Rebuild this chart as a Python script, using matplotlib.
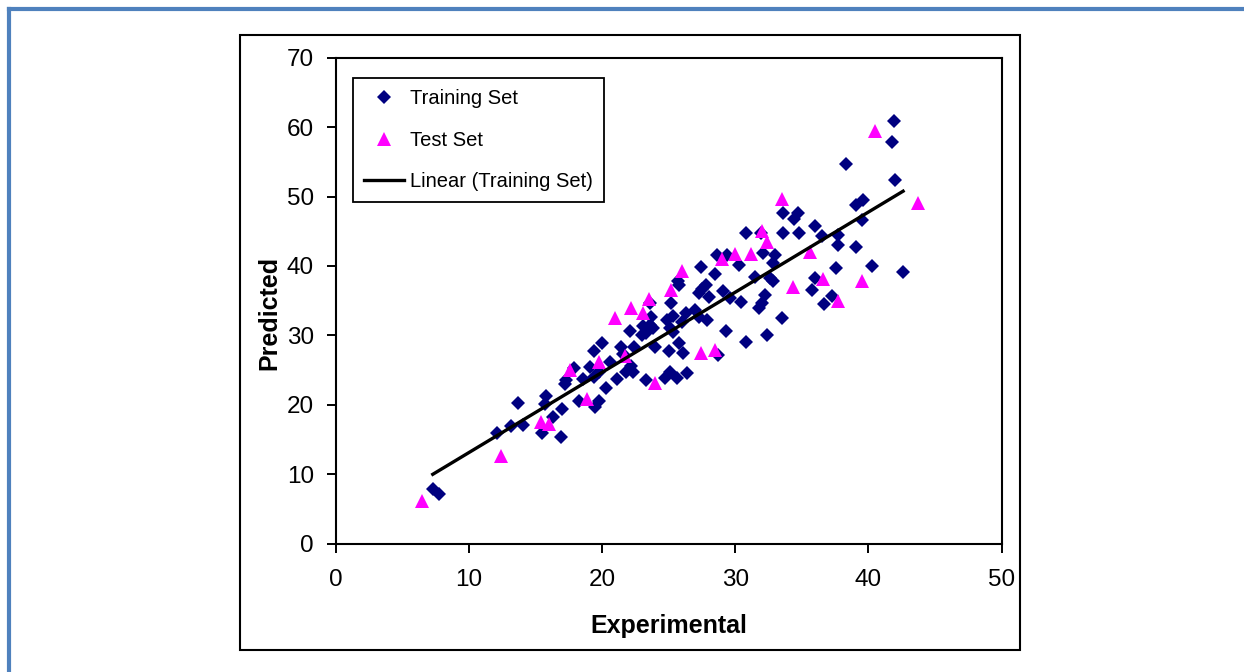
import matplotlib.pyplot as plt
import numpy as np
from matplotlib.patches import Rectangle
from matplotlib.lines import Line2D

plt.rcParams['font.family'] = ['Liberation Sans', 'DejaVu Sans']

# ---- data ----
train_x = [7.3, 7.8, 12.1, 13.2, 13.7, 14.1, 15.5, 15.8, 15.7, 16.3, 16.9, 17.0, 17.2, 17.3, 17.9,
           18.3, 18.6, 19.1, 19.5, 19.8, 19.4, 19.8, 20.3, 20.6, 21.1, 21.8, 22.2, 22.3, 23.3, 24.7,
           25.1, 25.6, 26.4, 19.4, 20.0, 21.4, 22.4, 21.6, 22.1, 23.0, 23.1, 23.3, 23.6, 23.8, 23.7,
           23.6, 24.0, 25.0, 25.8, 26.1, 28.7, 24.9, 25.3, 25.1, 25.3, 26.0, 26.3, 27.0, 27.3, 27.9,
           25.2, 25.7, 25.8, 27.4, 28.5, 28.6, 29.4, 30.3, 32.1, 33.0, 32.8, 31.5, 32.6, 32.8, 27.5,
           27.8, 27.3, 28.0, 29.1, 29.6, 30.4, 32.2, 32.0, 31.8, 33.5, 29.3, 30.8, 32.4, 30.8, 31.9,
           33.6, 34.8, 36.0, 36.5, 37.7, 37.7, 39.1, 40.3, 42.6, 37.6, 36.0, 35.8, 37.3, 36.7, 33.6,
           34.4, 34.7, 39.1, 39.6, 39.5, 38.3, 41.9, 41.8, 42.0]
train_y = [7.9, 7.2, 15.9, 17.0, 20.2, 17.1, 15.9, 21.3, 20.1, 18.2, 15.3, 19.4, 23.0, 23.6, 25.3,
           20.6, 23.7, 25.5, 19.7, 20.5, 24.0, 24.8, 22.4, 26.2, 23.7, 24.7, 25.6, 24.8, 23.6, 23.9,
           24.8, 23.9, 24.6, 27.7, 28.9, 28.3, 28.4, 27.3, 30.6, 30.0, 31.3, 30.3, 31.5, 31.0, 32.7,
           34.6, 28.4, 27.8, 28.9, 27.5, 27.2, 32.2, 32.8, 31.0, 30.5, 32.0, 33.2, 33.7, 32.7, 32.2,
           34.7, 37.9, 37.3, 39.9, 38.9, 41.6, 41.6, 40.1, 41.8, 41.6, 40.5, 38.4, 38.3, 37.8, 36.7,
           37.2, 36.1, 35.6, 36.4, 35.4, 34.8, 35.8, 34.7, 33.9, 32.5, 30.6, 29.1, 30.1, 44.8, 44.7,
           44.8, 44.8, 45.7, 44.3, 44.5, 43.0, 42.8, 40.0, 39.1, 39.7, 38.2, 36.6, 35.7, 34.5, 47.7,
           46.7, 47.6, 48.8, 49.5, 46.6, 54.7, 60.9, 57.8, 52.4]

test_x = [6.5, 12.4, 15.4, 16.0, 17.6, 18.9, 19.8, 21.7, 24.0, 21.0, 22.2, 23.1, 23.5, 25.2, 26.0,
          27.4, 28.5, 29.0, 30.0, 31.2, 32.0, 32.4, 33.5, 35.6, 34.3, 36.6, 37.7, 39.5, 40.5, 43.7]
test_y = [6.2, 12.6, 17.6, 17.3, 25.0, 20.9, 26.1, 27.0, 23.2, 32.5, 33.9, 33.3, 35.3, 36.5, 39.3,
          27.4, 27.9, 41.0, 41.7, 41.7, 45.0, 43.5, 49.7, 42.0, 37.0, 38.1, 34.9, 37.8, 59.5, 49.1]

x_ticks = [0, 10, 20, 30, 40, 50]
y_ticks = [0, 10, 20, 30, 40, 50, 60, 70]

# ---- figure ----
W, H = 1244, 672
fig = plt.figure(figsize=(W / 100, H / 100), dpi=100)

# blue page frame (left + top)
fig.add_artist(Line2D([8.5 / W, 8.5 / W], [0, 1 - 8.5 / H], color='#4F81BD', lw=3, transform=fig.transFigure))
fig.add_artist(Line2D([8.5 / W, 1], [1 - 8.5 / H, 1 - 8.5 / H], color='#4F81BD', lw=3, transform=fig.transFigure))

# chart box
fig.add_artist(Rectangle((240 / W, 1 - 650 / H), (1019.5 - 240) / W, (650 - 35) / H,
                         fill=False, edgecolor='black', lw=1.5, transform=fig.transFigure))

ax = fig.add_axes([335.5 / W, 1 - 543.7 / H, (1001.7 - 335.5) / W, (543.7 - 57.7) / H])

ax.plot(train_x, train_y, linestyle='none', marker='D', markersize=7.3, color='#000080',
        markeredgewidth=0, label='Training Set', zorder=3)
ax.plot(test_x, test_y, linestyle='none', marker='^', markersize=10, color='#FF00FF',
        markeredgewidth=0, label='Test Set', zorder=4)

# linear trendline of the training set
slope, intercept = np.polyfit(train_x, train_y, 1)
xs = np.array([min(train_x), max(train_x)])
ax.plot(xs, slope * xs + intercept, color='black', lw=2.4, label='Linear (Training Set)', zorder=5)

ax.set_xlim(0, 50)
ax.set_ylim(0, 70)
ax.set_xticks(x_ticks)
ax.set_yticks(y_ticks)
ax.tick_params(axis='both', direction='out', length=6.5, width=1.4, labelsize=17.5)
ax.tick_params(axis='x', pad=11.5)
ax.tick_params(axis='y', pad=9)
for s in ax.spines.values():
    s.set_linewidth(1.5)

ax.set_xlabel('Experimental', fontsize=18, fontweight='bold')
ax.set_ylabel('Predicted', fontsize=18, fontweight='bold')
ax.xaxis.set_label_coords(0.5, -0.1447)
ax.yaxis.set_label_coords(-0.081, 0.474)

leg = ax.legend(loc='upper left', bbox_to_anchor=(353 / W, 1 - 78 / H), bbox_transform=fig.transFigure,
                borderaxespad=0, fontsize=14.5, frameon=True, fancybox=False, framealpha=1,
                handlelength=2.0, handletextpad=0.3, labelspacing=1.12, borderpad=0.55)
leg.get_frame().set_edgecolor('black')
leg.get_frame().set_linewidth(1.3)

plt.savefig('out.png', dpi=100)
plt.close()
